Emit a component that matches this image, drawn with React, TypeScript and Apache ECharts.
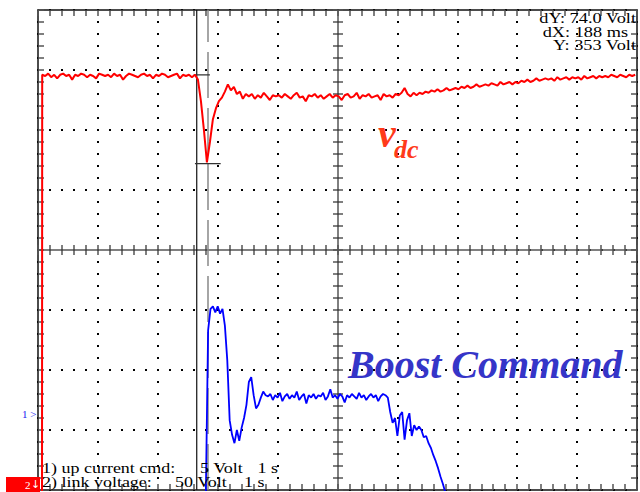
import React, { useEffect, useRef } from "react";
import * as echarts from "echarts";

// ---- Channel 2 (link voltage, red): 50 V/div, 1 s/div ----
const ch2Min = 7;
const ch2PerDiv = 50;
const redEdgeTime = 0.067;
const redEdgeVolt = 0;
const redT0 = 0.07;
const redStep = 0.05;
const redVolts = [
  353, 352, 354, 351, 353, 350, 353, 354, 352, 353,
  349, 353, 352, 354, 353, 351, 353, 352, 350, 354,
  353, 352, 353, 351, 354, 352, 353, 349, 352, 354,
  353, 352, 351, 353, 354, 352, 353, 350, 353, 352,
  354, 353, 351, 352, 353, 354, 350, 353, 352, 353,
  351, 353,
  349, 331, 307, 280, 297, 316, 325, 331, 334, 339, 345, 340, 343, 337, 339, 333, 337,
  335, 337, 333, 336, 334, 338, 335, 332, 336, 335,
  336, 334, 337, 335, 333, 336, 338, 334, 335, 331,
  336, 335, 337, 334, 336, 333, 335, 337, 334, 336,
  335, 332, 336, 337, 334, 335, 338, 333, 336, 335,
  337, 334, 335, 336, 332, 337, 335, 336, 334, 337,
  336, 338, 342, 337, 335, 338, 336, 338, 337, 339,
  338, 340, 339, 341, 339, 340, 342, 340, 341, 342,
  341, 343, 342, 344, 342, 343, 345, 343, 344, 345,
  344, 346, 345, 344, 347, 345, 346, 347, 345, 347,
  346, 348, 347, 349, 347, 348, 350, 348, 349, 350,
  349, 350, 348, 351, 349, 350, 351, 349, 351, 350,
  351, 349, 352, 350, 351, 352, 350, 352, 351, 352,
  351, 353, 352, 351, 353, 352, 351, 353, 352, 353,
];

// ---- Channel 1 (up current cmd, blue): 5 V/div ----
const ch1Min = -6.5;
const ch1PerDiv = 5;
const blueT0 = 2.8;
const blueStep = 0.04;
const blueVolts = [
  -7.5, 6.8, 8.6, 8.8, 8.3, 8.8, 8.2, 8.6, 7.2, 4.3,
  -0.7, -1.9, -2.6, -1.5, -2.4, -1.3, -0.5, 0.6, 2.5, 2.9,
  1.4, 0.3, 0.6, 1.2, 1.7, 1.4,
  1.3, 1.5, 1.0, 1.4, 1.2, 1.6, 0.9, 1.3, 1.5, 1.1,
  1.4, 1.2, 1.7, 1.0, 1.3, 1.5, 0.7, 1.4, 1.2, 1.5,
  1.1, 1.4, 1.3, 1.6, 1.0, 1.3, 1.9, 1.2, 1.4, 1.1,
  1.5, 1.3, 0.8, 1.4, 1.2, 1.5, 1.3, 1.1, 1.6, 1.2,
  1.4, 1.0, 1.3, 1.5, 1.2, 1.4, 0.9, 1.3, 1.5, 1.4,
  1.2, 0, -0.9, -0.5, -2, -0.3, 0, -2.3, -0.7, -0.1,
  -2, -1.1, -1.5, -1.2, -1.5, -2.1, -2, -2.6, -3, -3.6,
  -4.1, -4.7, -5.4, -6, -6.7, -7.5,
];

// ---- Cursors ----
const cursorTimes = [2.65, 2.838];
const cursorVolts = [353, 279];
const cursorSpans = [
  [2.6, 2.87],
  [2.62, 3.05],
];

// ---- Texts ----
const readout = ["dY: 74.0 Volt", "dX: 188 ms", "Y: 353 Volt"];
const channelNames = ["1) up current cmd:", "2) link voltage:"];
const channelVolts = ["5 Volt", "50 Volt"];
const channelTime = "1 s";

export default function App() {
  const ref = useRef<HTMLDivElement>(null);

  useEffect(() => {
    const chart = echarts.init(ref.current!, null, { renderer: "svg" });

    const redData: number[][] = [[redEdgeTime, redEdgeVolt]].concat(
      redVolts.map((v, i) => [+(redT0 + i * redStep).toFixed(3), v])
    );
    const blueData = blueVolts.map((v, i) => [+(blueT0 + i * blueStep).toFixed(3), v]);

    const border = "#111";
    const tickC = "#555";
    const centerC = "#555";
    const dots = { color: "#000", width: 2, type: [2, 10], dashOffset: 1 };

    const frameX = (pos: string, split: boolean) => ({
      type: "value", min: 0, max: 10, interval: 1, position: pos,
      axisLine: { show: true, onZero: false, lineStyle: { color: border, width: 1.5 } },
      axisTick: { show: true, inside: true, length: 6, lineStyle: { color: tickC, width: 1.5 } },
      minorTick: { show: true, splitNumber: 5, length: 6, lineStyle: { color: tickC, width: 1.5 } },
      axisLabel: { show: false },
      splitLine: { show: split, lineStyle: dots },
    });
    const centerX = (inside: boolean, line: boolean) => ({
      type: "value", min: 0, max: 10, interval: 1, position: "bottom", offset: -240,
      axisLine: { show: line, onZero: false, lineStyle: { color: centerC, width: 1.5 } },
      axisTick: { show: true, inside, length: 5, lineStyle: { color: centerC, width: 1.5 } },
      minorTick: { show: true, splitNumber: 5, length: 5, lineStyle: { color: centerC, width: 1.5 } },
      axisLabel: { show: false },
      splitLine: { show: false },
    });
    const frameY = (pos: string, split: boolean) => ({
      type: "value", min: 0, max: 8, interval: 1, position: pos,
      axisLine: { show: true, onZero: false, lineStyle: { color: border, width: 1.5 } },
      axisTick: { show: true, inside: true, length: 6, lineStyle: { color: tickC, width: 1.5 } },
      minorTick: { show: true, splitNumber: 5, length: 6, lineStyle: { color: tickC, width: 1.5 } },
      axisLabel: { show: false },
      splitLine: { show: split, lineStyle: dots },
    });
    const centerY = (inside: boolean, line: boolean) => ({
      type: "value", min: 0, max: 8, interval: 1, position: "left", offset: -300,
      axisLine: { show: line, onZero: false, lineStyle: { color: centerC, width: 1.5 } },
      axisTick: { show: true, inside, length: 5, lineStyle: { color: centerC, width: 1.5 } },
      minorTick: { show: true, splitNumber: 5, length: 5, lineStyle: { color: centerC, width: 1.5 } },
      axisLabel: { show: false },
      splitLine: { show: false },
    });
    const hiddenY = (min: number, perDiv: number) => ({
      type: "value", min, max: min + 8 * perDiv, show: false,
      axisLine: { onZero: false }, splitLine: { show: false },
    });

    const lineSeries = (data: number[][], yIdx: number, color: string, width: number, type: any = "solid") => ({
      type: "line", xAxisIndex: 0, yAxisIndex: yIdx, data, symbol: "none", silent: true,
      lineStyle: { color, width, type }, clip: true,
    });

    const serif = "'Liberation Serif', 'Times New Roman', serif";
    const txt = (text: string, x: number, y: number, opts: any = {}) => ({
      type: "text", x, y, silent: true, z: 100,
      scaleX: opts.sx || 1,
      style: {
        text, fill: opts.fill || "#000", font: opts.font || `15px ${serif}`,
        lineHeight: opts.lh || 13,
        textAlign: opts.align || "left", verticalAlign: "middle",
      },
    });

    chart.setOption({
      animation: false,
      backgroundColor: "#fff",
      grid: { left: 38, top: 10, width: 599, height: 480, show: false },
      xAxis: [frameX("bottom", true), frameX("top", false), centerX(false, true), centerX(true, false)],
      yAxis: [
        frameY("left", true), frameY("right", false), centerY(false, true), centerY(true, false),
        hiddenY(ch2Min, ch2PerDiv), hiddenY(ch1Min, ch1PerDiv),
      ],
      series: [
        lineSeries([[cursorTimes[0], ch2Min], [cursorTimes[0], ch2Min + 8 * ch2PerDiv]], 4, "#111", 1.2),
        lineSeries([[cursorTimes[1], ch2Min], [cursorTimes[1], ch2Min + 8 * ch2PerDiv]], 4, "#888", 1.5, [46, 10]),
        lineSeries([[cursorSpans[0][0], cursorVolts[0]], [cursorSpans[0][1], cursorVolts[0]]], 4, "#333", 1.2),
        lineSeries([[cursorSpans[1][0], cursorVolts[1]], [cursorSpans[1][1], cursorVolts[1]]], 4, "#333", 1.2),
        lineSeries(redData, 4, "#ff0000", 2),
        lineSeries(blueData, 5, "#0000ff", 1.8),
      ],
      graphic: [
        txt(readout[0], 636, 18.5, { align: "right", sx: 1.22 }),
        txt(readout[1], 628, 32, { align: "right", sx: 1.22 }),
        txt(readout[2], 636, 45.5, { align: "right", sx: 1.22 }),
        txt(channelNames[0], 42, 468, { sx: 1.2 }),
        txt(channelVolts[0], 200, 468, { sx: 1.2 }),
        txt(channelTime, 278, 468, { align: "right", sx: 1.2 }),
        txt(channelNames[1], 42, 482.5, { sx: 1.2 }),
        txt(channelVolts[1], 175, 482.5, { sx: 1.2 }),
        txt(channelTime, 244, 482.5, { sx: 1.2 }),
        txt("1 >", 22, 414, { fill: "#1a1af0", font: `11px ${serif}`, lh: 11 }),
        { type: "rect", shape: { x: 6, y: 477, width: 34, height: 15 }, style: { fill: "#ff0000" }, z: 99, silent: true },
        txt("2", 25, 484.5, { fill: "#fff", font: `11px ${serif}`, lh: 11 }),
        txt("↓", 31, 484.5, { fill: "#fff", font: `11px 'DejaVu Sans', sans-serif`, lh: 11 }),
        txt("v", 378, 133.5, { fill: "#ff3a1a", font: `italic bold 40px ${serif}`, lh: 40 }),
        txt("dc", 394, 149, { fill: "#ff3a1a", font: `italic bold 26px ${serif}`, lh: 26 }),
        txt("Boost Command", 348, 364, { fill: "#3535c8", font: `italic bold 40px ${serif}`, lh: 40 }),
      ],
    });

    return () => chart.dispose();
  }, []);

  return (
    <div
      ref={ref}
      style={{ position: "absolute", left: 0, top: 0, width: 640, height: 492 }}
    />
  );
}
